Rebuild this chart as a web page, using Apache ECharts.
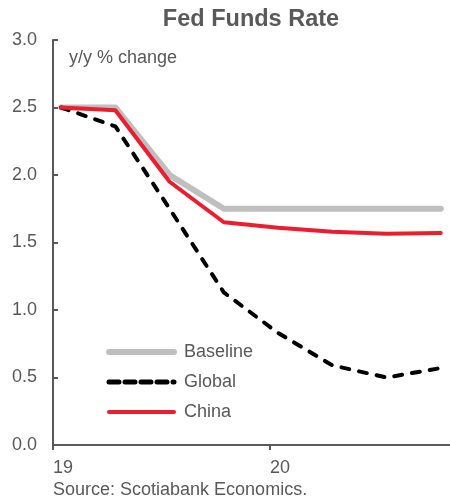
<!DOCTYPE html>
<html>
<head>
<meta charset="utf-8">
<script src="https://cdn.jsdelivr.net/npm/echarts@6/dist/echarts.min.js"></script>
<style>
  html, body { margin: 0; padding: 0; background: #fff; }
  #chart { width: 450px; height: 501px; }
</style>
</head>
<body>
<div id="chart"></div>
<script>
// Quarterly path of the policy rate, 2019Q1 to 2020Q4
const quarters = ['2019Q1', '2019Q2', '2019Q3', '2019Q4', '2020Q1', '2020Q2', '2020Q3', '2020Q4'];
const baseline = [2.50, 2.50, 2.00, 1.75, 1.75, 1.75, 1.75, 1.75];
const globalShock = [2.50, 2.36, 1.75, 1.13, 0.83, 0.59, 0.50, 0.57];
const chinaShock = [2.50, 2.48, 1.95, 1.65, 1.61, 1.58, 1.565, 1.57];
const yearLabels = { 0: '19', 4: '20' };
const yTicks = [0, 0.5, 1.0, 1.5, 2.0, 2.5, 3.0];

// each quarterly observation sits a little after the start of its quarter
const obsOffset = 0.15;
const toPoints = vals => vals.map((v, i) => [i + obsOffset, v]);

const textColor = '#595959';
const font = 'Liberation Sans, Arial, sans-serif';
const grey = '#bfbfbf', red = '#ed1c2e';
const dash = [8, 10];

const chart = echarts.init(document.getElementById('chart'), null, { renderer: 'canvas' });
chart.setOption({
  animation: false,
  backgroundColor: '#fff',
  title: {
    text: 'Fed Funds Rate',
    left: 246, top: 3, textAlign: 'center',
    textStyle: { fontFamily: font, fontSize: 23.5, fontWeight: 'bold', color: textColor }
  },
  grid: { left: 53, right: 0, top: 40, bottom: 56, containLabel: false },
  xAxis: {
    type: 'value', min: 0, max: 7.32, interval: 4,
    axisLine: { show: true, lineStyle: { color: textColor, width: 2 } },
    axisTick: { show: true, length: 5, lineStyle: { color: textColor, width: 2 } },
    splitLine: { show: false },
    axisLabel: {
      showMaxLabel: false, align: 'left', margin: 14,
      fontFamily: font, fontSize: 18, color: textColor,
      formatter: v => yearLabels[v] || ''
    }
  },
  yAxis: {
    type: 'value', min: yTicks[0], max: yTicks[yTicks.length - 1], interval: 0.5,
    axisLine: { show: true, lineStyle: { color: textColor, width: 2 } },
    axisTick: { show: true, inside: true, length: 5, lineStyle: { color: textColor, width: 2 } },
    splitLine: { show: false },
    axisLabel: {
      margin: 16, fontFamily: font, fontSize: 18, color: textColor,
      formatter: v => v.toFixed(1)
    }
  },
  legend: {
    orient: 'vertical', left: 101, top: 338,
    itemWidth: 65, itemHeight: 18, itemGap: 12,
    itemStyle: { opacity: 0 },
    textStyle: { fontFamily: font, fontSize: 18, color: textColor, padding: [0, 0, 0, 5] },
    data: [
      { name: 'Baseline', lineStyle: { width: 6, color: grey, cap: 'round' } },
      { name: 'Global', lineStyle: { width: 5, color: '#000', type: [10, 6], cap: 'round' } },
      { name: 'China', lineStyle: { width: 4, color: red, cap: 'round' } }
    ]
  },
  graphic: [
    { type: 'text', left: 69, top: 49,
      style: { text: 'y/y % change', font: '18px ' + font, fill: textColor } },
    { type: 'text', left: 53, top: 481,
      style: { text: 'Source: Scotiabank Economics.', font: '18px ' + font, fill: textColor } }
  ],
  series: [
    { name: 'Baseline', type: 'line', data: toPoints(baseline), symbol: 'none',
      lineStyle: { color: grey, width: 6, cap: 'round', join: 'round' },
      itemStyle: { color: grey } },
    { name: 'Global', type: 'line', data: toPoints(globalShock), symbol: 'none',
      lineStyle: { color: '#000', width: 4, type: dash, cap: 'round' },
      itemStyle: { color: '#000' } },
    { name: 'China', type: 'line', data: toPoints(chinaShock), symbol: 'none',
      lineStyle: { color: red, width: 4, cap: 'round', join: 'round' },
      itemStyle: { color: red } }
  ]
});
</script>
</body>
</html>
